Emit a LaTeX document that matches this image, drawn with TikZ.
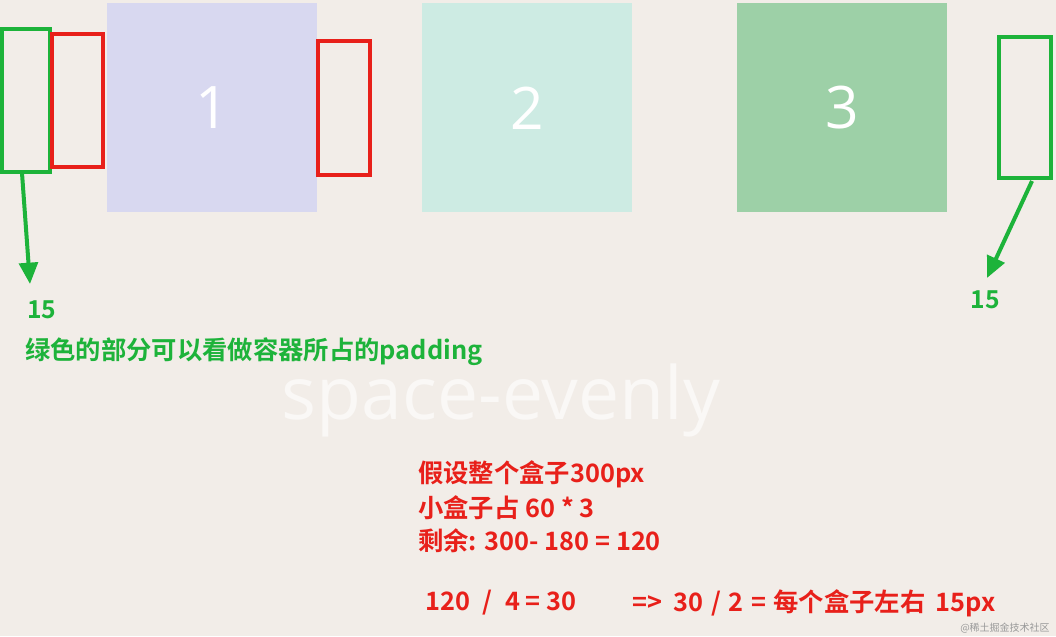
\documentclass[tikz,border=0pt]{standalone}
\usepackage{fontspec}
\setmainfont{Noto Sans CJK SC}
\newfontfamily\cjkbold{Noto Sans CJK SC Bold}
\newfontfamily\lightfont{Open Sans}
\usetikzlibrary{arrows.meta}
\definecolor{bg}{HTML}{F2EDE8}
\definecolor{boxA}{HTML}{D8D8F0}
\definecolor{boxB}{HTML}{CDEBE3}
\definecolor{boxC}{HTML}{9DD0A7}
\definecolor{grn}{HTML}{1DB33A}
\definecolor{rd}{HTML}{E8201A}
\definecolor{faint}{HTML}{FAF8F6}
\begin{document}
\begin{tikzpicture}[x=0.75pt,y=-0.75pt,
  flexbox/.style={minimum width=157.5pt,minimum height=156.75pt,inner sep=0pt,anchor=north west,font=\lightfont\fontsize{44}{44}\selectfont,text=white},
  grnrect/.style={draw=grn,line width=2.3pt},
  redrect/.style={draw=rd,line width=2.3pt},
  grnarrow/.style={draw=grn,line width=3pt,-{Triangle[length=16pt,width=14pt]}},
  grntxt/.style={text=grn,font=\cjkbold\fontsize{18.5}{20}\selectfont,inner sep=0pt},
  redtxt/.style={text=rd,font=\cjkbold\fontsize{19}{22}\selectfont,inner sep=0pt,anchor=west}]
\fill[bg] (0,0) rectangle (1056,636);
\useasboundingbox (0,0) rectangle (1056,636);
% boxes
\node[flexbox,fill=boxA] (b1) at (107,3) {1};
\node[flexbox,fill=boxB] (b2) at (422,3) {2};
\node[flexbox,fill=boxC] (b3) at (737,3) {3};
% rectangles
\draw[grnrect] (2,29) rectangle (50,172);
\coordinate (gl) at (22,173);
\draw[redrect] (52,34) rectangle (103,167);
\draw[redrect] (318,41) rectangle (370,175);
\draw[grnrect] (999,37) rectangle (1051,178);
\coordinate (gr) at (1032,181);
% labels
\node[grntxt] (l15) at (42,310) {15};
\node[grntxt] (r15) at (985,300) {15};
\draw[grnarrow] (gl) -- (30,284);
\draw[grnarrow] (gr) -- (987,278);
\node[grntxt,anchor=west,font=\cjkbold\fontsize{19}{20}\selectfont] (gt) at (25,352) {绿色的部分可以看做容器所占的padding};
\node[text=faint,font=\lightfont\fontsize{55}{55}\selectfont,inner sep=0pt] (se) at (501,400) {space-evenly};
\node[redtxt] (r1) at (418,474) {假设整个盒子300px};
\node[redtxt] (r2) at (418,508) {小盒子占 60 * 3};
\node[redtxt] (r3) at (418,541) {剩余: 300- 180 = 120};
\node[redtxt] (r4a) at (425,603) {120\hspace{0.5em}/\hspace{0.5em}4 = 30};
\node[redtxt] (r4b) at (632,603) {=>\hspace{0.45em}30\hspace{0.3em}/\hspace{0.3em}2\hspace{0.3em}=\hspace{0.3em}每个盒子左右\hspace{0.4em}15px};
\node[text=gray!80,font=\fontsize{7.5}{8}\selectfont,inner sep=0pt,anchor=east] (wm) at (1050,628) {@稀土掘金技术社区};
\end{tikzpicture}
\end{document}
